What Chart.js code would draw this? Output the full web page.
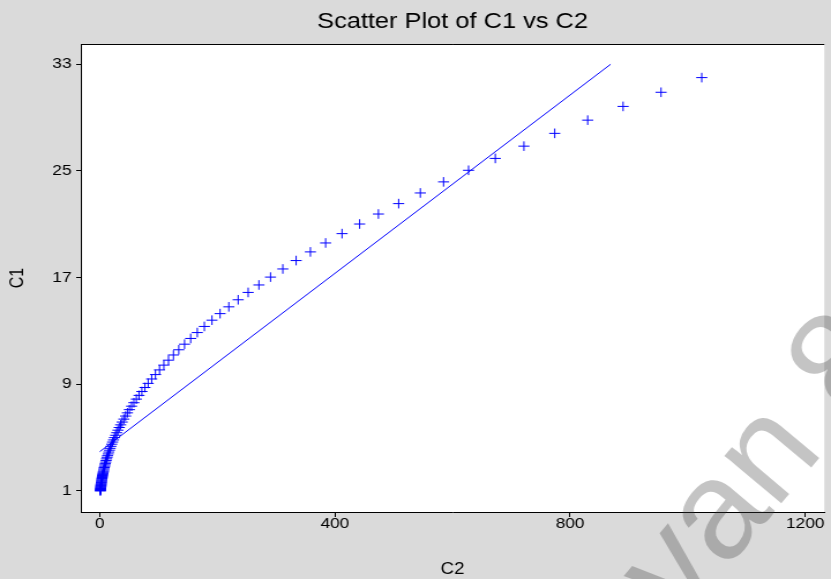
<!DOCTYPE html>
<html>
<head>
<meta charset="utf-8">
<script src="https://cdn.jsdelivr.net/npm/chart.js@4.4.1/dist/chart.umd.min.js"></script>
<style>
  html, body { margin: 0; padding: 0; overflow: hidden; background: #dadada; }
</style>
</head>
<body>
<!-- the source picture is a 720px wide export shown stretched to 831px -->
<canvas id="plot" width="720" height="579" style="width:831px;height:579px;display:block"></canvas>
<script>
// C1 and C2, one entry per "+" marker
const c1Values = [
  1.00, 1.04, 1.07, 1.11, 1.15, 1.19, 1.23, 1.28, 1.32, 1.37,
  1.42, 1.47, 1.52, 1.58, 1.63, 1.69, 1.75, 1.81, 1.88, 1.94,
  2.01, 2.09, 2.16, 2.24, 2.32, 2.40, 2.48, 2.57, 2.66, 2.76,
  2.86, 2.96, 3.07, 3.17, 3.29, 3.41, 3.53, 3.65, 3.78, 3.92,
  4.06, 4.20, 4.35, 4.51, 4.67, 4.83, 5.00, 5.18, 5.37, 5.56,
  5.76, 5.96, 6.17, 6.39, 6.62, 6.86, 7.10, 7.36, 7.62, 7.89,
  8.17, 8.46, 8.76, 9.07, 9.40, 9.73, 10.08, 10.44, 10.81, 11.20,
  11.59, 12.01, 12.44, 12.88, 13.34, 13.81, 14.30, 14.81, 15.34, 15.89,
  16.45, 17.04, 17.65, 18.28, 18.93, 19.60, 20.30, 21.02, 21.77, 22.55,
  23.35, 24.18, 25.05, 25.94, 26.86, 27.82, 28.81, 29.84, 30.90, 32.00
];
const c2Values = [
  1.0, 1.1, 1.2, 1.2, 1.3, 1.4, 1.5, 1.6, 1.8, 1.9,
  2.0, 2.2, 2.3, 2.5, 2.7, 2.9, 3.1, 3.3, 3.5, 3.8,
  4.1, 4.4, 4.7, 5.0, 5.4, 5.8, 6.2, 6.6, 7.1, 7.6,
  8.2, 8.8, 9.4, 10.1, 10.8, 11.6, 12.4, 13.3, 14.3, 15.3,
  16.5, 17.6, 18.9, 20.3, 21.8, 23.4, 25.0, 26.9, 28.8, 30.9,
  33.1, 35.5, 38.1, 40.9, 43.9, 47.0, 50.4, 54.1, 58.0, 62.2,
  66.7, 71.6, 76.8, 82.3, 88.3, 94.7, 101.6, 109.0, 116.9, 125.3,
  134.4, 144.2, 154.6, 165.9, 177.9, 190.8, 204.6, 219.5, 235.4, 252.4,
  270.7, 290.4, 311.4, 334.0, 358.3, 384.2, 412.1, 442.0, 474.0, 508.4,
  545.3, 584.8, 627.3, 672.8, 721.5, 773.9, 830.0, 890.2, 954.8, 1024.0
];

// the straight reference line, its two ends
const lineC2 = [0, 869];
const lineC1 = [3.95, 33];

const xTicks = [0, 400, 800, 1200];
const yTicks = [1, 9, 17, 25, 33];

const FONT = '"Liberation Sans", Arial, sans-serif';

const points = c2Values.map((x, i) => ({ x, y: c1Values[i] }));
const linePts = lineC2.map((x, i) => ({ x, y: lineC1[i] }));

const backdrop = {
  id: 'backdrop',
  beforeDraw(chart) {
    const { ctx, chartArea: a } = chart;
    ctx.save();
    ctx.fillStyle = '#dadada';
    ctx.fillRect(0, 0, chart.width, chart.height);
    ctx.fillStyle = '#ffffff';
    ctx.fillRect(a.left, a.top, a.right - a.left, a.bottom - a.top);
    ctx.restore();
  },
  afterDraw(chart) {
    const { ctx, chartArea: a } = chart;
    ctx.save();
    // top edge of the frame
    ctx.strokeStyle = '#000';
    ctx.lineWidth = 1;
    ctx.beginPath();
    ctx.moveTo(a.left, Math.round(a.top) + 0.5);
    ctx.lineTo(a.right, Math.round(a.top) + 0.5);
    ctx.stroke();
    // watermark, placed in on-screen pixels (undo the stretch)
    ctx.scale(720 / 831, 1);
    ctx.translate(680, 624);
    ctx.rotate(-50 * Math.PI / 180);
    ctx.font = '140px ' + FONT;
    ctx.fillStyle = 'rgba(60,60,60,0.3)';
    ctx.textBaseline = 'alphabetic';
    ctx.fillText('van 8', 0, 0);
    ctx.restore();
  }
};

new Chart(document.getElementById('plot'), {
  type: 'scatter',
  data: {
    datasets: [
      {
        label: 'C1',
        data: points,
        pointStyle: 'cross',
        pointRadius: 4.8,
        pointBorderWidth: 1,
        borderColor: '#0000ff',
        backgroundColor: '#0000ff',
        showLine: false
      },
      {
        label: 'line',
        data: linePts,
        showLine: true,
        pointRadius: 0,
        borderColor: '#0000ff',
        borderWidth: 1,
        fill: false
      }
    ]
  },
  options: {
    responsive: false,
    animation: false,
    devicePixelRatio: 1,
    layout: { padding: 0 },
    plugins: {
      legend: { display: false },
      tooltip: { enabled: false },
      title: {
        display: true,
        text: 'Scatter Plot of C1 vs C2',
        fullSize: false,
        color: '#000',
        font: { family: FONT, size: 22, weight: 'normal', lineHeight: 1.2 },
        padding: { top: 9, bottom: 8.6 }
      }
    },
    scales: {
      x: {
        type: 'linear',
        position: 'bottom',
        min: -32.3,
        max: 1232.5,
        afterFit: s => { s.height = 67; },
        afterBuildTicks: s => { s.ticks = xTicks.map(v => ({ value: v })); },
        grid: { drawOnChartArea: false, drawTicks: true, tickLength: 5, color: '#000', tickColor: '#000' },
        border: { display: true, color: '#000', width: 1 },
        ticks: {
          color: '#000',
          font: { family: FONT, size: 15, lineHeight: 1 },
          padding: -1,
          maxRotation: 0,
          callback: v => String(v)
        },
        title: {
          display: true,
          text: 'C2',
          color: '#000',
          font: { family: FONT, size: 16, lineHeight: 1.2 },
          padding: { top: 0, bottom: 0 }
        }
      },
      y: {
        type: 'linear',
        position: 'left',
        min: -0.575,
        max: 34.52,
        afterFit: s => { s.width = 70; },
        afterBuildTicks: s => { s.ticks = yTicks.map(v => ({ value: v })); },
        grid: { drawOnChartArea: false, drawTicks: true, tickLength: 4, color: '#000', tickColor: '#000' },
        border: { display: true, color: '#000', width: 1 },
        ticks: { color: '#000', font: { family: FONT, size: 15 }, padding: 4, callback: v => String(v) },
        title: {
          display: true,
          text: 'C1',
          color: '#000',
          font: { family: FONT, size: 16, lineHeight: 1.2 },
          padding: { top: 6, bottom: 0 }
        }
      }
    }
  },
  plugins: [backdrop]
});
</script>
</body>
</html>
